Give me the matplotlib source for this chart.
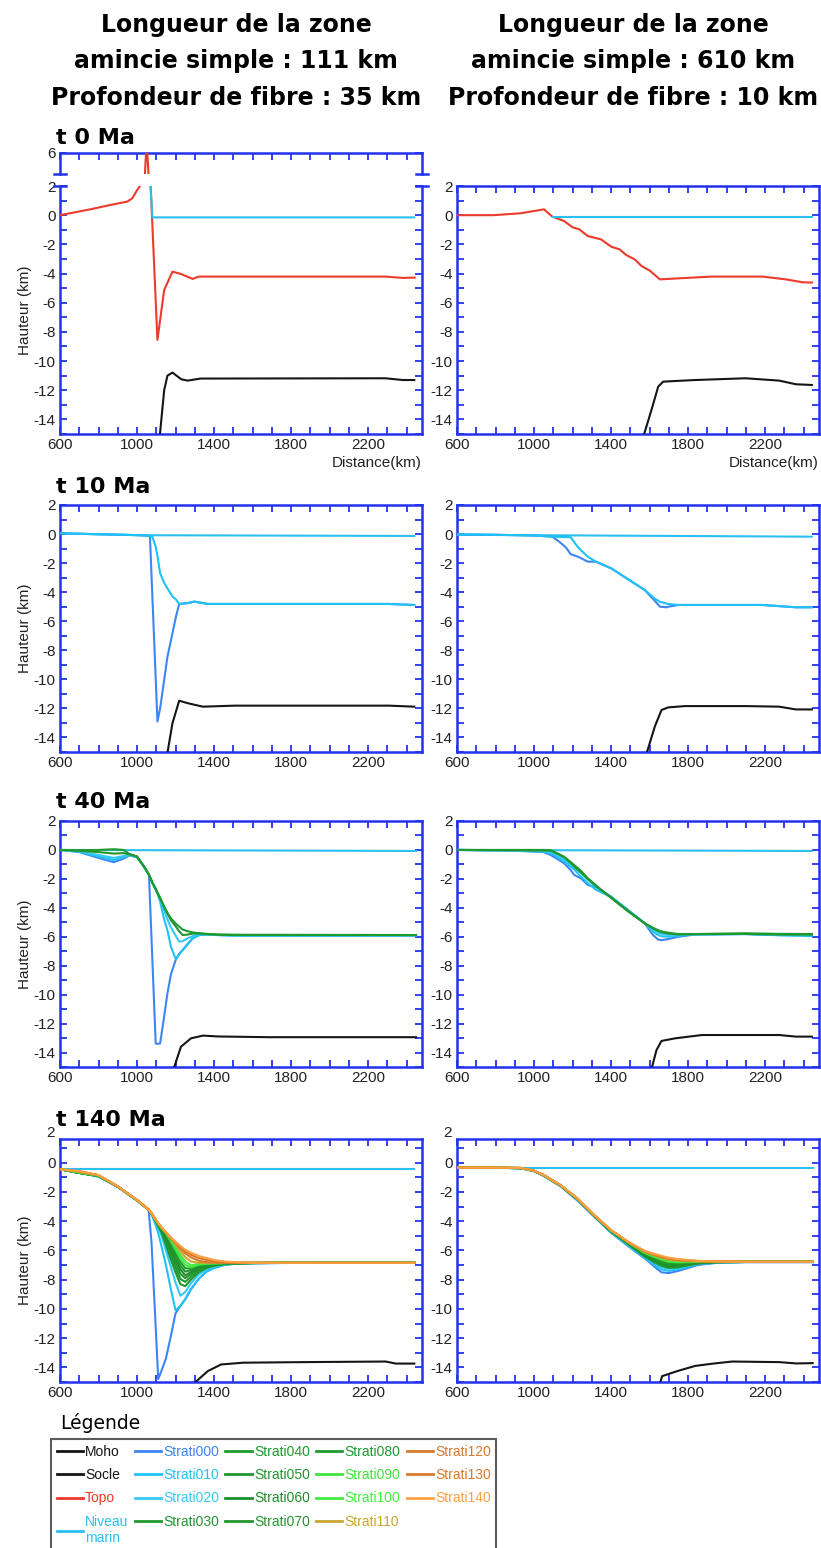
import matplotlib
matplotlib.use('Agg')
import matplotlib.pyplot as plt
import matplotlib.transforms as mtransforms
from matplotlib.lines import Line2D
from matplotlib.ticker import MultipleLocator

plt.rcParams['font.family'] = ['Liberation Sans', 'DejaVu Sans']
plt.rcParams['axes.unicode_minus'] = False

W, H = 821, 1548

# ---------------- data (km / km) ----------------
# t 0 Ma, left (111 km / 35 km)
t0_l_topo_x = [600, 757, 862, 949, 975, 1001, 1019, 1041, 1050, 1071, 1106, 1141, 1184, 1228, 1289, 1320, 2291, 2379, 2442]
t0_l_topo_y = [0.0, 0.40, 0.70, 0.93, 1.15, 1.73, 2.07, 4.55, 6.8, 1.95, -8.55, -5.13, -3.87, -4.03, -4.37, -4.21, -4.21, -4.30, -4.28]
t0_l_sea_x = [1070, 1080, 2440]
t0_l_sea_y = [2.0, -0.15, -0.15]
t0_l_moho_x = [1117, 1141, 1158, 1184, 1230, 1263, 1330, 2290, 2380, 2440]
t0_l_moho_y = [-15.3, -12.0, -11.0, -10.79, -11.25, -11.34, -11.2, -11.18, -11.3, -11.3]

# t 0 Ma, right (610 km / 10 km)
t0_r_topo_x = [600, 790, 930, 1052, 1095, 1156, 1200, 1235, 1279, 1348, 1401, 1444, 1479, 1523, 1558, 1601, 1654, 1750, 1924, 2186, 2308, 2395, 2443]
t0_r_topo_y = [0.0, 0.0, 0.13, 0.40, -0.10, -0.40, -0.83, -0.97, -1.43, -1.66, -2.16, -2.34, -2.73, -3.03, -3.48, -3.80, -4.40, -4.33, -4.21, -4.21, -4.40, -4.60, -4.62]
t0_r_sea_x = [1100, 2443]
t0_r_sea_y = [-0.15, -0.15]
t0_r_moho_x = [1565, 1610, 1645, 1671, 1837, 2098, 2273, 2360, 2443]
t0_r_moho_y = [-15.3, -13.35, -11.75, -11.41, -11.3, -11.18, -11.34, -11.59, -11.64]

# t 10 Ma, left
t10_l_x = [600, 1019, 1067, 1080, 1097, 1106, 1120, 1141, 1158, 1184, 1202, 1219, 1263, 1298, 1368, 1507, 2309, 2440]
t10_l_s000 = [0.05, -0.08, -0.13, -4.4, -9.9, -12.9, -11.99, -10.04, -8.44, -6.83, -5.7, -4.81, -4.75, -4.65, -4.81, -4.81, -4.81, -4.88]
t10_l_s010 = [0.05, -0.08, -0.13, -0.2, -0.87, -1.5, -2.7, -3.35, -3.74, -4.3, -4.5, -4.81, -4.75, -4.65, -4.81, -4.81, -4.81, -4.88]
t10_l_sea_x = [600, 1019, 2440]
t10_l_sea_y = [0.05, -0.08, -0.13]
t10_l_moho_x = [1155, 1184, 1219, 1263, 1342, 1507, 2309, 2440]
t10_l_moho_y = [-15.3, -13.02, -11.47, -11.64, -11.88, -11.81, -11.81, -11.88]

# t 10 Ma, right
t10_r_x = [600, 800, 1000, 1095, 1130, 1165, 1191, 1226, 1235, 1279, 1322, 1401, 1575, 1627, 1654, 1688, 1697, 1750, 2186, 2360, 2443]
t10_r_s000 = [-0.02, -0.05, -0.1, -0.18, -0.52, -0.91, -1.39, -1.55, -1.6, -1.9, -1.9, -2.36, -3.85, -4.59, -5.0, -5.04, -5.0, -4.88, -4.88, -5.04, -5.04]
t10_r_s010 = [-0.02, -0.05, -0.1, -0.18, -0.2, -0.21, -0.22, -0.87, -1.0, -1.56, -1.9, -2.36, -3.85, -4.45, -4.66, -4.78, -4.81, -4.88, -4.88, -5.04, -5.04]
t10_r_sea_x = [600, 2443]
t10_r_sea_y = [-0.05, -0.18]
t10_r_moho_x = [1580, 1627, 1662, 1697, 1784, 2098, 2273, 2360, 2443]
t10_r_moho_y = [-15.3, -13.26, -12.11, -11.93, -11.84, -11.84, -11.88, -12.07, -12.07]

# t 40 Ma, left
t40_l_x = [600, 700, 800, 879, 930, 960, 1000, 1036, 1062, 1080, 1097, 1106, 1120, 1141, 1158, 1176, 1202, 1219, 1237, 1263, 1289, 1324, 1368, 1420, 1507, 2449]
t40_l_s000 = [0, -0.15, -0.55, -0.85, -0.6, -0.38, -0.5, -1.16, -1.73, -7.7, -13.37, -13.4, -13.37, -11.5, -9.91, -8.6, -7.56, -7.2, -6.92, -6.5, -6.11, -5.88, -5.84, -5.88, -5.91, -5.91]
t40_l_s010 = [0, -0.12, -0.45, -0.7, -0.5, -0.36, -0.48, -1.16, -1.73, -2.3, -2.75, -3.0, -3.58, -4.8, -5.55, -6.69, -7.56, -7.2, -6.92, -6.5, -6.11, -5.88, -5.84, -5.88, -5.91, -5.91]
t40_l_s020 = [0, -0.1, -0.35, -0.55, -0.42, -0.34, -0.47, -1.15, -1.72, -2.28, -2.72, -2.98, -3.4, -4.2, -4.8, -5.35, -5.95, -6.34, -6.3, -6.11, -5.95, -5.81, -5.84, -5.88, -5.91, -5.91]
t40_l_s030 = [0, -0.06, -0.15, -0.25, -0.22, -0.3, -0.46, -1.14, -1.71, -2.27, -2.7, -2.96, -3.35, -3.95, -4.4, -4.85, -5.3, -5.62, -5.88, -5.85, -5.78, -5.77, -5.82, -5.86, -5.88, -5.88]
t40_l_s040 = [0, -0.02, 0.0, 0.05, 0.0, -0.28, -0.45, -1.13, -1.7, -2.25, -2.68, -2.95, -3.3, -3.92, -4.35, -4.73, -5.1, -5.3, -5.5, -5.62, -5.7, -5.76, -5.81, -5.84, -5.86, -5.88]
t40_l_sea_x = [600, 2449]
t40_l_sea_y = [0.0, -0.07]
t40_l_moho_x = [1186, 1228, 1280, 1342, 1420, 1681, 2449]
t40_l_moho_y = [-15.3, -13.6, -13.02, -12.83, -12.89, -12.94, -12.94]

# t 40 Ma, right
t40_r_x = [600, 900, 1050, 1087, 1130, 1156, 1191, 1209, 1244, 1279, 1322, 1401, 1488, 1575, 1618, 1645, 1662, 1697, 1750, 1837, 2098, 2273, 2443]
t40_r_s000 = [0, -0.05, -0.15, -0.35, -0.7, -0.92, -1.4, -1.73, -1.96, -2.42, -2.58, -3.23, -4.15, -5.07, -5.88, -6.2, -6.23, -6.16, -6.0, -5.84, -5.81, -5.88, -5.88]
t40_r_s010 = [0, -0.05, -0.12, -0.23, -0.55, -0.8, -1.15, -1.35, -1.85, -2.3, -2.75, -3.25, -4.15, -5.07, -5.65, -5.88, -5.97, -6.0, -5.93, -5.85, -5.81, -5.9, -5.95]
t40_r_s020 = [0, -0.03, -0.08, -0.12, -0.4, -0.65, -1.0, -1.2, -1.6, -2.05, -2.55, -3.28, -4.2, -5.07, -5.5, -5.72, -5.8, -5.88, -5.86, -5.82, -5.81, -5.88, -5.88]
t40_r_s030 = [0, -0.02, -0.04, -0.05, -0.3, -0.5, -0.9, -1.15, -1.55, -2.0, -2.5, -3.3, -4.22, -5.07, -5.42, -5.6, -5.68, -5.78, -5.84, -5.82, -5.8, -5.85, -5.85]
t40_r_s040 = [0, 0, 0, -0.02, -0.3, -0.47, -0.85, -1.05, -1.45, -1.95, -2.45, -3.32, -4.24, -5.07, -5.38, -5.55, -5.63, -5.72, -5.81, -5.81, -5.76, -5.8, -5.81]
t40_r_sea_x = [600, 2443]
t40_r_sea_y = [0.0, -0.07]
t40_r_moho_x = [1607, 1636, 1662, 1732, 1872, 2273, 2360, 2443]
t40_r_moho_y = [-15.3, -13.83, -13.2, -13.02, -12.79, -12.79, -12.9, -12.9]

# t 140 Ma, left
t140_l_x = [600, 700, 800, 900, 1000, 1060, 1075, 1095, 1110, 1125, 1150, 1175, 1200, 1225, 1250, 1280, 1320, 1360, 1400, 1450, 1500, 1600, 1750, 2000, 2440]
t140_l_s000 = [-0.45, -0.68, -0.95, -1.65, -2.58, -3.22, -5.4, -10.7, -14.8, -14.3, -13.4, -11.9, -10.3, -9.8, -9.35, -8.65, -7.95, -7.45, -7.2, -7.0, -6.92, -6.88, -6.86, -6.85, -6.85]
t140_l_s010 = [-0.45, -0.68, -0.95, -1.65, -2.58, -3.22, -3.5, -4.2, -4.8, -5.6, -7.0, -8.6, -10.1, -9.8, -9.35, -8.65, -7.95, -7.45, -7.2, -7.0, -6.92, -6.88, -6.86, -6.85, -6.85]
t140_l_s020 = [-0.45, -0.68, -0.95, -1.65, -2.58, -3.22, -3.48, -4.0, -4.5, -4.9, -6.0, -7.1, -8.2, -9.1, -8.85, -8.25, -7.65, -7.3, -7.1, -6.98, -6.9, -6.87, -6.86, -6.85, -6.85]
t140_l_s030 = [-0.45, -0.7, -0.9, -1.64, -2.57, -3.21, -3.47, -3.95, -4.35, -4.7, -5.6, -6.6, -7.5, -8.3, -8.45, -8.0, -7.5, -7.2, -7.05, -6.95, -6.9, -6.87, -6.85, -6.85, -6.85]
t140_l_s040 = [-0.45, -0.7, -0.9, -1.64, -2.57, -3.21, -3.47, -3.93, -4.3, -4.62, -5.4, -6.3, -7.15, -7.95, -8.15, -7.8, -7.38, -7.12, -7.0, -6.93, -6.89, -6.86, -6.85, -6.85, -6.85]
t140_l_s050 = [-0.45, -0.7, -0.9, -1.64, -2.57, -3.21, -3.46, -3.9, -4.25, -4.55, -5.2, -6.0, -6.85, -7.6, -7.9, -7.62, -7.27, -7.06, -6.96, -6.91, -6.88, -6.86, -6.85, -6.85, -6.85]
t140_l_s060 = [-0.45, -0.7, -0.9, -1.64, -2.57, -3.21, -3.46, -3.89, -4.22, -4.5, -5.05, -5.8, -6.6, -7.3, -7.7, -7.48, -7.18, -7.02, -6.94, -6.9, -6.87, -6.86, -6.85, -6.85, -6.85]
t140_l_s070 = [-0.45, -0.7, -0.9, -1.64, -2.57, -3.21, -3.46, -3.88, -4.2, -4.47, -4.95, -5.6, -6.35, -7.05, -7.45, -7.35, -7.1, -6.98, -6.92, -6.89, -6.87, -6.86, -6.85, -6.85, -6.85]
t140_l_s080 = [-0.45, -0.7, -0.9, -1.64, -2.57, -3.21, -3.45, -3.87, -4.18, -4.45, -4.88, -5.45, -6.15, -6.8, -7.22, -7.25, -7.03, -6.95, -6.9, -6.88, -6.86, -6.85, -6.85, -6.85, -6.85]
t140_l_s090 = [-0.45, -0.68, -0.88, -1.63, -2.56, -3.21, -3.45, -3.86, -4.17, -4.43, -4.83, -5.35, -5.95, -6.55, -7.0, -7.15, -6.98, -6.92, -6.89, -6.87, -6.86, -6.85, -6.85, -6.85, -6.85]
t140_l_s100 = [-0.45, -0.66, -0.87, -1.63, -2.56, -3.21, -3.45, -3.86, -4.16, -4.42, -4.8, -5.25, -5.78, -6.3, -6.75, -7.02, -6.93, -6.9, -6.88, -6.86, -6.85, -6.85, -6.85, -6.85, -6.85]
t140_l_s110 = [-0.45, -0.62, -0.86, -1.62, -2.55, -3.2, -3.45, -3.86, -4.16, -4.41, -4.78, -5.18, -5.6, -6.05, -6.45, -6.75, -6.85, -6.86, -6.86, -6.85, -6.85, -6.85, -6.85, -6.85, -6.85]
t140_l_s120 = [-0.45, -0.6, -0.86, -1.62, -2.55, -3.2, -3.45, -3.85, -4.15, -4.41, -4.77, -5.15, -5.5, -5.85, -6.2, -6.48, -6.7, -6.8, -6.83, -6.85, -6.85, -6.85, -6.85, -6.85, -6.85]
t140_l_s130 = [-0.45, -0.59, -0.85, -1.62, -2.55, -3.2, -3.45, -3.85, -4.15, -4.4, -4.76, -5.12, -5.45, -5.77, -6.07, -6.3, -6.52, -6.65, -6.75, -6.8, -6.83, -6.85, -6.85, -6.85, -6.85]
t140_l_s140 = [-0.45, -0.58, -0.85, -1.62, -2.55, -3.2, -3.45, -3.85, -4.15, -4.4, -4.75, -5.1, -5.4, -5.7, -5.95, -6.15, -6.38, -6.52, -6.65, -6.75, -6.8, -6.85, -6.85, -6.85, -6.85]
t140_l_sea_x = [600, 2440]
t140_l_sea_y = [-0.45, -0.45]
t140_l_moho_x = [1287, 1368, 1437, 1551, 1866, 2291, 2344, 2440]
t140_l_moho_y = [-15.2, -14.25, -13.8, -13.68, -13.64, -13.6, -13.74, -13.74]

# t 140 Ma, right
t140_r_x = [600, 800, 930, 1000, 1052, 1139, 1226, 1313, 1401, 1488, 1575, 1620, 1662, 1700, 1750, 1800, 1850, 1950, 2100, 2447]
t140_r_s000 = [-0.34, -0.35, -0.38, -0.58, -0.92, -1.62, -2.6, -3.7, -4.8, -5.7, -6.55, -7.05, -7.5, -7.55, -7.4, -7.2, -7.0, -6.85, -6.8, -6.8]
t140_r_s010 = [-0.34, -0.35, -0.37, -0.57, -0.9, -1.6, -2.55, -3.68, -4.78, -5.65, -6.5, -6.95, -7.3, -7.4, -7.3, -7.12, -6.95, -6.83, -6.8, -6.8]
t140_r_s020 = [-0.34, -0.35, -0.37, -0.57, -0.89, -1.59, -2.53, -3.66, -4.75, -5.6, -6.45, -6.85, -7.15, -7.25, -7.2, -7.05, -6.92, -6.82, -6.79, -6.79]
t140_r_s030 = [-0.34, -0.35, -0.37, -0.56, -0.88, -1.58, -2.51, -3.65, -4.72, -5.56, -6.42, -6.78, -7.05, -7.2, -7.15, -7.02, -6.9, -6.81, -6.79, -6.79]
t140_r_s040 = [-0.34, -0.35, -0.37, -0.56, -0.88, -1.58, -2.5, -3.64, -4.7, -5.53, -6.38, -6.72, -7.0, -7.15, -7.1, -6.98, -6.88, -6.8, -6.79, -6.79]
t140_r_s050 = [-0.34, -0.35, -0.37, -0.56, -0.87, -1.57, -2.49, -3.63, -4.68, -5.5, -6.35, -6.66, -6.92, -7.08, -7.05, -6.95, -6.86, -6.8, -6.79, -6.79]
t140_r_s060 = [-0.34, -0.35, -0.37, -0.56, -0.87, -1.57, -2.49, -3.62, -4.67, -5.48, -6.3, -6.6, -6.85, -7.0, -6.98, -6.92, -6.84, -6.79, -6.78, -6.78]
t140_r_s070 = [-0.34, -0.35, -0.37, -0.55, -0.87, -1.56, -2.48, -3.62, -4.66, -5.46, -6.26, -6.54, -6.78, -6.93, -6.93, -6.88, -6.82, -6.79, -6.78, -6.78]
t140_r_s080 = [-0.34, -0.35, -0.37, -0.55, -0.87, -1.56, -2.48, -3.61, -4.65, -5.45, -6.22, -6.48, -6.7, -6.86, -6.88, -6.84, -6.8, -6.78, -6.78, -6.78]
t140_r_s090 = [-0.34, -0.34, -0.36, -0.55, -0.86, -1.56, -2.47, -3.61, -4.64, -5.44, -6.18, -6.42, -6.63, -6.78, -6.82, -6.8, -6.78, -6.78, -6.78, -6.78]
t140_r_s100 = [-0.34, -0.34, -0.36, -0.55, -0.86, -1.55, -2.47, -3.6, -4.64, -5.43, -6.14, -6.37, -6.56, -6.71, -6.76, -6.77, -6.76, -6.77, -6.78, -6.78]
t140_r_s110 = [-0.34, -0.34, -0.36, -0.55, -0.86, -1.55, -2.46, -3.6, -4.63, -5.42, -6.1, -6.32, -6.5, -6.64, -6.71, -6.74, -6.75, -6.77, -6.78, -6.78]
t140_r_s120 = [-0.34, -0.34, -0.36, -0.55, -0.86, -1.55, -2.46, -3.59, -4.63, -5.42, -6.08, -6.28, -6.45, -6.58, -6.66, -6.71, -6.73, -6.77, -6.78, -6.78]
t140_r_s130 = [-0.34, -0.34, -0.36, -0.55, -0.86, -1.55, -2.46, -3.59, -4.62, -5.41, -6.05, -6.25, -6.41, -6.54, -6.62, -6.68, -6.72, -6.76, -6.78, -6.78]
t140_r_s140 = [-0.34, -0.34, -0.36, -0.55, -0.86, -1.55, -2.46, -3.59, -4.62, -5.41, -6.03, -6.22, -6.37, -6.5, -6.59, -6.66, -6.71, -6.76, -6.78, -6.78]
t140_r_sea_x = [600, 2447]
t140_r_sea_y = [-0.34, -0.34]
t140_r_moho_x = [1652, 1665, 1750, 1837, 1924, 2029, 2273, 2360, 2447]
t140_r_moho_y = [-15.2, -14.6, -14.23, -13.9, -13.75, -13.6, -13.64, -13.73, -13.71]

col_titles = ["Longueur de la zone", "amincie simple : 111 km", "Profondeur de fibre : 35 km"], \
             ["Longueur de la zone", "amincie simple : 610 km", "Profondeur de fibre : 10 km"]
row_titles = ["t 0 Ma", "t 10 Ma", "t 40 Ma", "t 140 Ma"]

strati_names = ["Strati000", "Strati010", "Strati020", "Strati030", "Strati040", "Strati050",
                "Strati060", "Strati070", "Strati080", "Strati090", "Strati100", "Strati110",
                "Strati120", "Strati130", "Strati140"]

# ---------------- style ----------------
FRAME = '#2233ee'
C_MOHO = '#151515'
C_TOPO = '#ec3a2c'
C_SEA = '#2bbff0'
strati_colors = ['#3d85f5', '#1fc3f7', '#35c9f2', '#1f962f', '#1e9a2e', '#22952f', '#1d8f2c',
                 '#24962f', '#1f9a31', '#3fe53c', '#43ea40', '#c8a630', '#d67a2b', '#d9792a', '#ffa040']

# ---------------- layout (pixels) ----------------
cols_px = [(60, 422), (457, 819)]
rows_px = [(186, 434), (505, 752), (821, 1067), (1139, 1382)]
row_ytop = [2, 2, 2, 1.62]


def px_box(l, t, r, b):
    return [l / W, 1 - b / H, (r - l) / W, (b - t) / H]


def style_axes(ax, ytop):
    ax.set_xlim(600, 2480)
    ax.set_ylim(-15, ytop)
    ax.set_xticks([600, 1000, 1400, 1800, 2200])
    ax.xaxis.set_minor_locator(MultipleLocator(100))
    ax.set_yticks([y for y in range(-14, 3, 2) if y <= ytop])
    ax.yaxis.set_minor_locator(MultipleLocator(1))
    ax.tick_params(which='both', direction='in', top=True, right=True, color=FRAME,
                   length=5, width=1.3, labelsize=11, pad=3, labelcolor='#222222')
    for sp in ax.spines.values():
        sp.set_color(FRAME)
        sp.set_linewidth(1.8)


fig = plt.figure(figsize=(W / 100, H / 100), dpi=100)

# panels: (row, col, sea, topo, moho, strati_x, strati list)
panels = [
    (0, 0, (t0_l_sea_x, t0_l_sea_y), (t0_l_topo_x, t0_l_topo_y), (t0_l_moho_x, t0_l_moho_y), None, []),
    (0, 1, (t0_r_sea_x, t0_r_sea_y), (t0_r_topo_x, t0_r_topo_y), (t0_r_moho_x, t0_r_moho_y), None, []),
    (1, 0, (t10_l_sea_x, t10_l_sea_y), None, (t10_l_moho_x, t10_l_moho_y), t10_l_x, [t10_l_s000, t10_l_s010]),
    (1, 1, (t10_r_sea_x, t10_r_sea_y), None, (t10_r_moho_x, t10_r_moho_y), t10_r_x, [t10_r_s000, t10_r_s010]),
    (2, 0, (t40_l_sea_x, t40_l_sea_y), None, (t40_l_moho_x, t40_l_moho_y), t40_l_x,
     [t40_l_s000, t40_l_s010, t40_l_s020, t40_l_s030, t40_l_s040]),
    (2, 1, (t40_r_sea_x, t40_r_sea_y), None, (t40_r_moho_x, t40_r_moho_y), t40_r_x,
     [t40_r_s000, t40_r_s010, t40_r_s020, t40_r_s030, t40_r_s040]),
    (3, 0, (t140_l_sea_x, t140_l_sea_y), None, (t140_l_moho_x, t140_l_moho_y), t140_l_x,
     [t140_l_s000, t140_l_s010, t140_l_s020, t140_l_s030, t140_l_s040, t140_l_s050, t140_l_s060,
      t140_l_s070, t140_l_s080, t140_l_s090, t140_l_s100, t140_l_s110, t140_l_s120, t140_l_s130, t140_l_s140]),
    (3, 1, (t140_r_sea_x, t140_r_sea_y), None, (t140_r_moho_x, t140_r_moho_y), t140_r_x,
     [t140_r_s000, t140_r_s010, t140_r_s020, t140_r_s030, t140_r_s040, t140_r_s050, t140_r_s060,
      t140_r_s070, t140_r_s080, t140_r_s090, t140_r_s100, t140_r_s110, t140_r_s120, t140_r_s130, t140_r_s140]),
]

LW = 1.5
for row, col, sea, topo, moho, sx, strati in panels:
    (l, r), (t, b) = cols_px[col], rows_px[row]
    ax = fig.add_axes(px_box(l, t, r, b))
    style_axes(ax, row_ytop[row])
    axes_to_draw = [ax]

    if row == 0 and col == 0:
        # broken axis : small upper segment for the topo peak
        ax_up = fig.add_axes(px_box(l, 153, r, 174))
        ax_up.set_xlim(600, 2480)
        ax_up.set_ylim(4.55, 6)
        ax_up.set_yticks([6])
        ax_up.set_xticks([600, 1000, 1400, 1800, 2200])
        ax_up.xaxis.set_minor_locator(MultipleLocator(100))
        ax_up.tick_params(which='both', direction='in', top=True, right=True, bottom=False,
                          labelbottom=False, color=FRAME, length=5, width=1.3,
                          labelsize=11, pad=3, labelcolor='#222222')
        for sp in ax_up.spines.values():
            sp.set_color(FRAME)
            sp.set_linewidth(1.8)
        ax_up.spines['bottom'].set_visible(False)
        ax.spines['top'].set_visible(False)
        ax.tick_params(which='both', top=False)
        for a, yy in ((ax_up, 0), (ax, 1)):
            for xx in (0, 1):
                a.add_line(Line2D([xx - 0.017, xx + 0.017], [yy, yy], transform=a.transAxes,
                                  color=FRAME, lw=1.8, clip_on=False))
        axes_to_draw.append(ax_up)

    for a in axes_to_draw:
        for i, ys in enumerate(strati):
            a.plot(sx, ys, color=strati_colors[i], lw=LW, zorder=3 + i * 0.01)
        if topo is not None:
            a.plot(topo[0], topo[1], color=C_TOPO, lw=LW, zorder=3)
        a.plot(sea[0], sea[1], color=C_SEA, lw=LW, zorder=2.9 if strati else 3.2)
        a.plot(moho[0], moho[1], color=C_MOHO, lw=LW, zorder=3)

    if row == 3:
        ax.text(-0.015, 2, '2', transform=mtransforms.blended_transform_factory(ax.transAxes, ax.transData),
                ha='right', va='center', fontsize=11, color='#222222', clip_on=False)
    if col == 0:
        ax.set_ylabel('Hauteur (km)', fontsize=11, labelpad=1, color='#222222')
    if row == 0:
        fig.text(r / W, 1 - 463 / H, 'Distance(km)', ha='right', va='center', fontsize=11, color='#222222')

# column titles
for cx, lines in zip([236, 633], col_titles):
    for yb, s in zip([31.7, 68.3, 105], lines):
        fig.text(cx / W, 1 - yb / H, s, ha='center', va='baseline', fontsize=17,
                 fontweight='bold', family='DejaVu Sans')

# row titles
for yb, s in zip([144, 493, 808, 1126], row_titles):
    fig.text(56 / W, 1 - yb / H, s, ha='left', va='baseline', fontsize=16,
             fontweight='bold', family='DejaVu Sans')

# legend
handles = [Line2D([], [], color=C_MOHO, lw=2), Line2D([], [], color=C_MOHO, lw=2),
           Line2D([], [], color=C_TOPO, lw=2), Line2D([], [], color=C_SEA, lw=2)]
labels = ['Moho', 'Socle', 'Topo', 'Niveau\nmarin']
for c, n in zip(strati_colors, strati_names):
    handles.append(Line2D([], [], color=c, lw=2))
    labels.append(n)
fig.text(60 / W, 1 - 1423 / H, 'Légende', ha='left', va='center', fontsize=13.5, family='DejaVu Sans')
leg = fig.legend(handles, labels, ncol=5, loc='upper left', bbox_to_anchor=(51 / W, 1 - 1439 / H),
                 labelcolor='linecolor', frameon=True, fancybox=False, edgecolor='#333333',
                 handlelength=1.9, handletextpad=0.15, columnspacing=0.45, borderpad=0.4,
                 labelspacing=0.68, borderaxespad=0, prop={'size': 10})
leg.get_frame().set_linewidth(1.5)

fig.savefig('out.png', dpi=100)
